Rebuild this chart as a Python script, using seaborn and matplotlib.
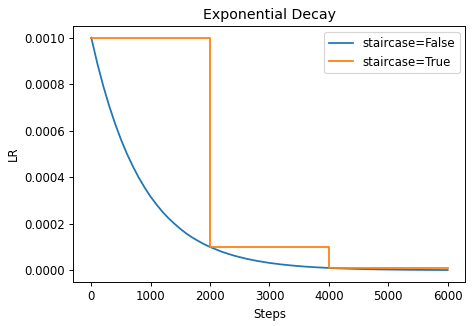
import matplotlib
matplotlib.use("Agg")
import matplotlib.pyplot as plt
import seaborn as sns
import pandas as pd

# Learning rate under exponential decay (rate 0.1 every 2000 steps)
smooth_steps = [
    0, 100, 200, 300, 400, 500, 600, 700, 800, 900, 1000,
    1100, 1200, 1300, 1400, 1500, 1600, 1700, 1800, 1900, 2000,
    2200, 2400, 2600, 2800, 3000, 3200, 3400, 3600, 3800, 4000,
    4200, 4400, 4600, 4800, 5000, 5200, 5400, 5600, 5800, 6000,
]
smooth_lr = [
    0.001000, 0.000891, 0.000794, 0.000708, 0.000631, 0.000562,
    0.000501, 0.000447, 0.000398, 0.000355, 0.000316,
    0.000282, 0.000251, 0.000224, 0.000200, 0.000178,
    0.000158, 0.000141, 0.000126, 0.000112, 0.000100,
    0.0000794, 0.0000631, 0.0000501, 0.0000398, 0.0000316,
    0.0000251, 0.0000200, 0.0000158, 0.0000126, 0.0000100,
    0.0000079, 0.0000063, 0.0000050, 0.0000040, 0.0000032,
    0.0000025, 0.0000020, 0.0000016, 0.0000013, 0.0000010,
]

stair_steps = [0, 2000, 4000, 6000]
stair_lr = [0.001, 0.0001, 0.00001, 0.00001]

smooth_df = pd.DataFrame({"Steps": smooth_steps, "LR": smooth_lr})
stair_df = pd.DataFrame({"Steps": stair_steps, "LR": stair_lr})

dpi = 85
fig, ax = plt.subplots(figsize=(474 / dpi, 326 / dpi), dpi=dpi)
fig.subplots_adjust(left=0.155, right=0.982, bottom=0.136, top=0.920)

sns.lineplot(data=smooth_df, x="Steps", y="LR", ax=ax, color="#1f77b4",
             label="staircase=False", linewidth=1.5)
sns.lineplot(data=stair_df, x="Steps", y="LR", ax=ax, color="#ff7f0e",
             label="staircase=True", linewidth=1.5, drawstyle="steps-post")

ax.set_title("Exponential Decay")
ax.set_xlabel("Steps")
ax.set_ylabel("LR")
ax.set_xticks([0, 1000, 2000, 3000, 4000, 5000, 6000])
ax.set_yticks([0.0, 0.0002, 0.0004, 0.0006, 0.0008, 0.0010])
ax.yaxis.set_major_formatter(matplotlib.ticker.FormatStrFormatter("%.4f"))
ax.legend(loc="upper right")

fig.savefig("out.png", dpi=dpi)
